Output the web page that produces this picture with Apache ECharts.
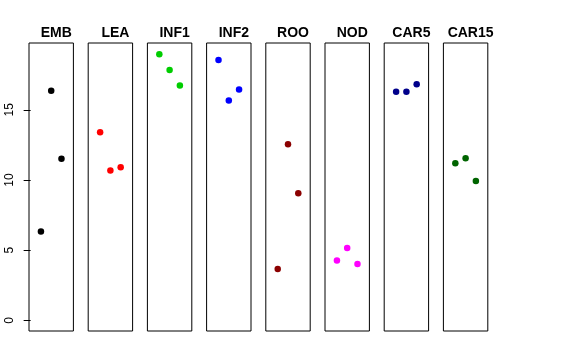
<!DOCTYPE html>
<html>
<head>
<meta charset="utf-8">
<script src="https://cdn.jsdelivr.net/npm/echarts@6/dist/echarts.min.js"></script>
<style>html,body{margin:0;padding:0;background:#fff}#c{width:576px;height:360px}</style>
</head>
<body>
<div id="c"></div>
<script>
const categories = ["EMB", "LEA", "INF1", "INF2", "ROO", "NOD", "CAR5", "CAR15"];
const xPositions = [1, 2, 3];
const EMB = [6.33, 16.35, 11.51];
const LEA = [13.40, 10.68, 10.91];
const INF1 = [18.95, 17.84, 16.73];
const INF2 = [18.55, 15.66, 16.44];
const ROO = [3.65, 12.55, 9.06];
const NOD = [4.27, 5.15, 4.01];
const CAR5 = [16.28, 16.28, 16.82];
const CAR15 = [11.20, 11.55, 9.92];
const yTicks = [0, 5, 10, 15];
const colors = ["#000000", "#FF0000", "#00CD00", "#0000FF", "#8B0000", "#FF00FF", "#00008B", "#006400"];

const values = [EMB, LEA, INF1, INF2, ROO, NOD, CAR5, CAR15];
const panelLeft0 = 29, panelStep = 59.2, panelW = 44.4, panelTop = 43, panelH = 288;

const grid = [], xAxis = [], yAxis = [], series = [], title = [];
categories.forEach((cat, i) => {
  const left = panelLeft0 + i * panelStep;
  grid.push({left: left, top: panelTop, width: panelW, height: panelH, show: true,
    borderColor: '#000', borderWidth: 1, backgroundColor: 'transparent', containLabel: false});
  xAxis.push({type: 'value', gridIndex: i, min: -0.16, max: 4.16, show: false});
  const first = i === 0;
  yAxis.push({type: 'value', gridIndex: i, min: -0.76, max: 19.76, show: first,
    axisLine: {show: false},
    splitLine: {show: false},
    axisTick: {show: first, length: 7, inside: false, lineStyle: {color: '#000'}, customValues: yTicks},
    axisLabel: {show: first, rotate: 90, margin: 13, color: '#000', fontSize: 12,
      fontFamily: 'Liberation Sans, Arial, sans-serif', customValues: yTicks}
  });
  series.push({type: 'scatter', xAxisIndex: i, yAxisIndex: i, symbol: 'circle', symbolSize: 6.5,
    itemStyle: {color: colors[i], opacity: 1},
    data: xPositions.map((x, k) => [x, values[i][k]]), animation: false});
  title.push({text: cat, left: left + panelW / 2, top: 21, textAlign: 'center',
    textStyle: {fontSize: 14, fontWeight: 'bold', color: '#000', fontFamily: 'Liberation Sans, Arial, sans-serif'}});
});

const chart = echarts.init(document.getElementById('c'), null, {renderer: 'canvas'});
chart.setOption({backgroundColor: '#fff', animation: false, title, grid, xAxis, yAxis, series});
</script>
</body>
</html>
